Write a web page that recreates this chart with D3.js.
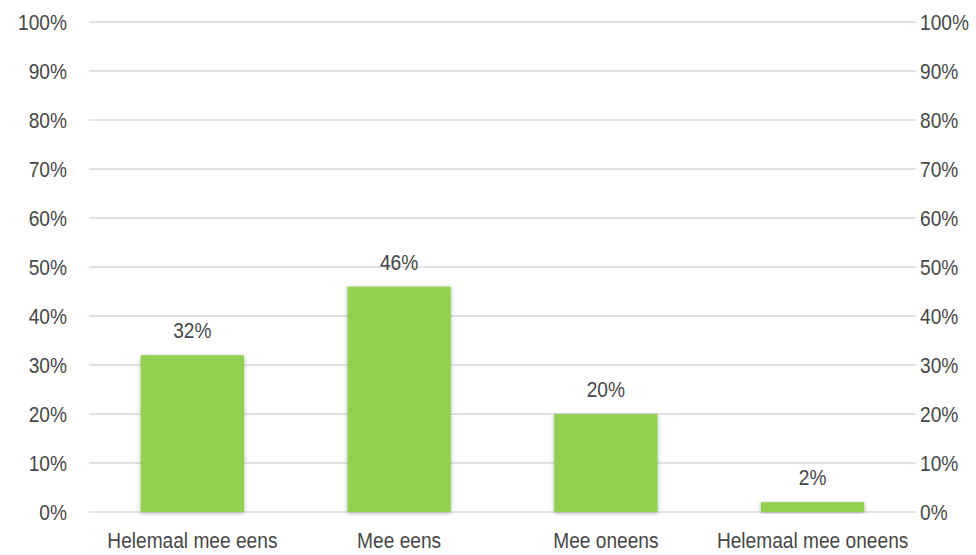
<!DOCTYPE html>
<html>
<head>
<meta charset="utf-8">
<script src="https://cdn.jsdelivr.net/npm/d3@7"></script>
<style>
  body { margin: 0; background: #fff; }
  text { font-family: "Liberation Sans", Arial, sans-serif; fill: #474747; }
</style>
</head>
<body>
<div id="chart"></div>
<script>
// data
const categories = ["Helemaal mee eens", "Mee eens", "Mee oneens", "Helemaal mee oneens"];
const values = [0.32, 0.46, 0.20, 0.02];
const labels = ["32%", "46%", "20%", "2%"];
const yTicks = [0, 0.1, 0.2, 0.3, 0.4, 0.5, 0.6, 0.7, 0.8, 0.9, 1.0];

const config = {
    width: 976,
    height: 555,
    padding: {top: 22, right: 60, bottom: 43, left: 89},
    fontSize: "22px",
    squeeze: 0.87   // the original font is a bit narrower than Arial
};
config.innerWidth = config.width - config.padding.left - config.padding.right;
config.innerHeight = config.height - config.padding.top - config.padding.bottom;

const svg = d3.select("#chart").append("svg")
    .attr("width", config.width)
    .attr("height", config.height);

// soft shadow for the bars
const filter = svg.append("defs").append("filter")
    .attr("id", "shadow")
    .attr("x", "-20%").attr("y", "-20%")
    .attr("width", "140%").attr("height", "140%");
filter.append("feDropShadow")
    .attr("dx", 0).attr("dy", 1)
    .attr("stdDeviation", 2)
    .attr("flood-color", "#000")
    .attr("flood-opacity", 0.3);

const g = svg.append("g")
    .attr("transform", `translate(${config.padding.left}, ${config.padding.top})`);

const x = d3.scaleBand().domain(categories).range([0, config.innerWidth])
    .paddingInner(0.5).paddingOuter(0.25);
const y = d3.scaleLinear().domain([0, 1]).range([config.innerHeight, 0]);

// narrow the text horizontally while keeping its anchor in place
function squeezeText(sel) {
    sel.each(function() {
        const t = d3.select(this);
        const tx = +t.attr("x") || 0;
        t.attr("x", tx / config.squeeze)
            .attr("transform", `scale(${config.squeeze},1)`)
            .style("font-family", "'Liberation Sans', Arial, sans-serif")
            .style("font-size", config.fontSize)
            .attr("fill", "#474747");
    });
}

// gridlines
g.selectAll(".grid").data(yTicks).enter()
    .append("line")
    .attr("class", "grid")
    .attr("x1", 0).attr("x2", config.innerWidth)
    .attr("y1", d => y(d)).attr("y2", d => y(d))
    .attr("stroke", "#d9d9d9")
    .attr("stroke-width", 1.5);

const fmt = d3.format(".0%");

// left and right axes, no domain lines
const leftAxis = g.append("g")
    .call(d3.axisLeft(y).tickValues(yTicks).tickFormat(fmt).tickSize(0).tickPadding(22));
const rightAxis = g.append("g")
    .attr("transform", `translate(${config.innerWidth},0)`)
    .call(d3.axisRight(y).tickValues(yTicks).tickFormat(fmt).tickSize(0).tickPadding(4));
[leftAxis, rightAxis].forEach(a => {
    a.select(".domain").remove();
    a.selectAll("text").call(squeezeText);
});

// bars
g.selectAll(".bar").data(values).enter()
    .append("rect")
    .attr("class", "bar")
    .attr("x", (d, i) => x(categories[i]))
    .attr("width", x.bandwidth())
    .attr("y", d => y(d))
    .attr("height", d => y(0) - y(d))
    .attr("fill", "#92d050")
    .attr("filter", "url(#shadow)");

// value labels
g.selectAll(".val").data(values).enter()
    .append("g")
    .attr("class", "val")
    .attr("transform", (d, i) => `translate(${x(categories[i]) + x.bandwidth() / 2},${y(d) - 17})`)
    .append("text")
    .attr("text-anchor", "middle")
    .text((d, i) => labels[i])
    .call(squeezeText);

// category labels
const xAxis = g.append("g")
    .attr("transform", `translate(0,${config.innerHeight})`)
    .call(d3.axisBottom(x).tickSize(0).tickPadding(20));
xAxis.select(".domain").remove();
xAxis.selectAll("text").call(squeezeText);
</script>
</body>
</html>
